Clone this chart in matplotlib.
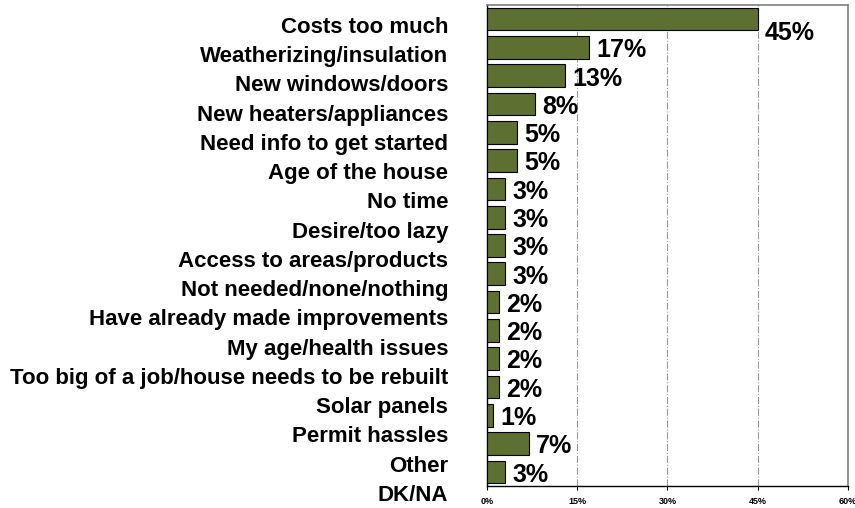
import matplotlib.pyplot as plt
from matplotlib.ticker import FuncFormatter

plt.rcParams['font.family'] = ['Liberation Sans', 'DejaVu Sans']
plt.rcParams['font.weight'] = 'bold'

reasons = ['Costs too much', 'Weatherizing/insulation', 'New windows/doors',
           'New heaters/appliances', 'Need info to get started', 'Age of the house',
           'No time', 'Desire/too lazy', 'Access to areas/products',
           'Not needed/none/nothing', 'Have already made improvements',
           'My age/health issues', 'Too big of a job/house needs to be rebuilt',
           'Solar panels', 'Permit hassles', 'Other', 'DK/NA']
pct = [45, 17, 13, 8, 5, 5, 3, 3, 3, 3, 2, 2, 2, 2, 1, 7, 3]
xticks = [0, 15, 30, 45, 60]

bar_color = '#5e6f32'

fig = plt.figure(figsize=(8.55, 5.08), dpi=100)
ax = fig.add_axes([0.5696, 0.0433, 0.4222, 0.9468])

ypos = list(range(len(pct)))
ax.barh(ypos, pct, height=0.8, color=bar_color, edgecolor='black', linewidth=0.8, zorder=3)
ax.set_ylim(len(pct) - 0.5, -0.5)
ax.set_xlim(0, 60)
ax.set_yticks([])

ax.set_xticks(xticks)
ax.xaxis.set_major_formatter(FuncFormatter(lambda v, p: f'{v:.0f}%'))
ax.tick_params(axis='x', labelsize=6.5, length=3, width=0.8, pad=5, direction='out')
ax.grid(axis='x', color='#9a9a9a', linestyle='-.', linewidth=0.8, zorder=0)

for s in ['top', 'right']:
    ax.spines[s].set_color('#808080')
    ax.spines[s].set_linewidth(1.2)
for s in ['left', 'bottom']:
    ax.spines[s].set_color('black')
    ax.spines[s].set_linewidth(1.0)

# value labels just right of each bar, the top one nudged down a bit more
for i, v in enumerate(pct):
    dy = -10 if i == 0 else -2
    ax.annotate(f'{v}%', (v, i), xytext=(5, dy), textcoords='offset points',
                ha='left', va='center', fontsize=18, fontweight='bold', zorder=4)

# category names sit on their own slightly looser spacing
lab = fig.add_axes([0.524, 0.0008, 0.0001, 0.979])
lab.set_ylim(len(reasons) - 0.5, -0.5)
lab.set_yticks(range(len(reasons)))
lab.set_yticklabels(reasons, fontsize=16, fontweight='bold')
lab.tick_params(axis='y', length=0, pad=0)
lab.set_xticks([])
for s in lab.spines.values():
    s.set_visible(False)
lab.patch.set_visible(False)

fig.savefig('out.png', dpi=100)
